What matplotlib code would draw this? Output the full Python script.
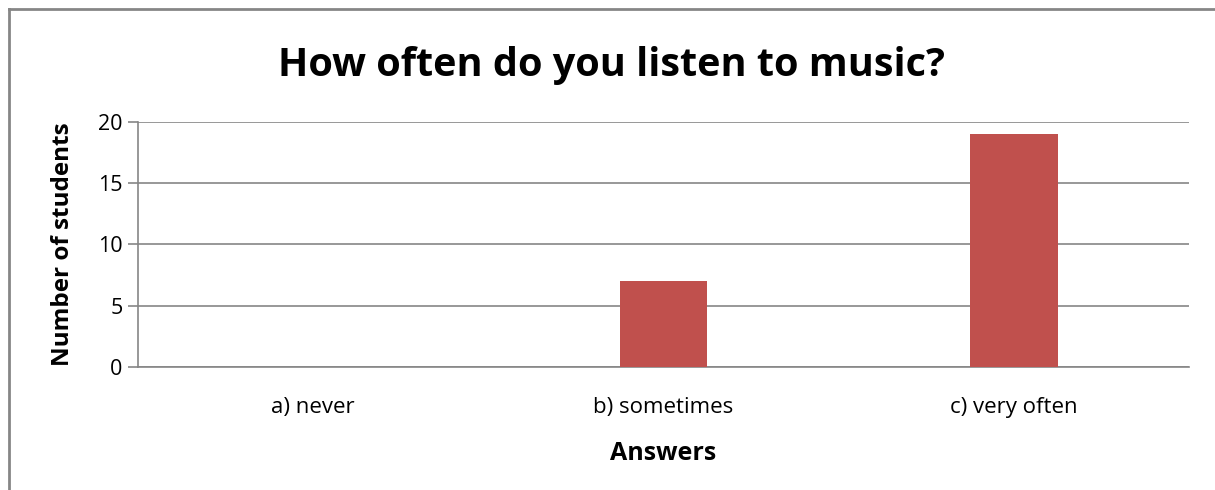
import matplotlib.pyplot as plt
from matplotlib.lines import Line2D
import numpy as np

plt.rcParams['font.family'] = ['Open Sans', 'DejaVu Sans']

categories = ['a) never', 'b) sometimes', 'c) very often']
counts = [0, 7, 19]

fig = plt.figure(figsize=(12.15, 4.9), dpi=100)
ax = fig.add_axes([138/1215, 1 - 367/490, (1189 - 138)/1215, (367 - 122)/490])

x = np.arange(len(categories))
ax.bar(x, counts, width=0.25, color='#C0504D', zorder=3)

ax.set_xlim(-0.5, len(categories) - 0.5)
ax.set_ylim(0, 20)
ax.set_yticks([0, 5, 10, 15, 20])
ax.yaxis.grid(True, color='#868686', linewidth=1.2, zorder=0)
ax.set_xticks(x)
ax.set_xticklabels(categories, fontsize=16)
ax.tick_params(axis='x', length=0, pad=21.5)
ax.tick_params(axis='y', length=7, color='#868686', width=1.2, labelsize=15.5, pad=4)

for side in ['top', 'right']:
    ax.spines[side].set_visible(False)
for side in ['left', 'bottom']:
    ax.spines[side].set_color('#868686')
    ax.spines[side].set_linewidth(1.2)

ax.set_xlabel('Answers', fontsize=18, fontweight='bold', va='center')
ax.xaxis.set_label_coords(0.5, (367 - 453) / 245)
ax.set_ylabel('Number of students', fontsize=17.5, fontweight='bold', va='center')
ax.yaxis.set_label_coords((63 - 138) / 1051, 0.5)
fig.text(612/1215, 1 - 76/490, 'How often do you listen to music?', fontsize=28.5,
         fontweight='bold', ha='center', va='baseline')

# outer chart frame (only top and left edges visible)
fig.add_artist(Line2D([9/1215, 9/1215], [0, 1 - 9.5/490], transform=fig.transFigure,
                      color='#868686', linewidth=2))
fig.add_artist(Line2D([9/1215, 1], [1 - 9.5/490, 1 - 9.5/490], transform=fig.transFigure,
                      color='#868686', linewidth=2))

fig.savefig('out.png', dpi=100)
